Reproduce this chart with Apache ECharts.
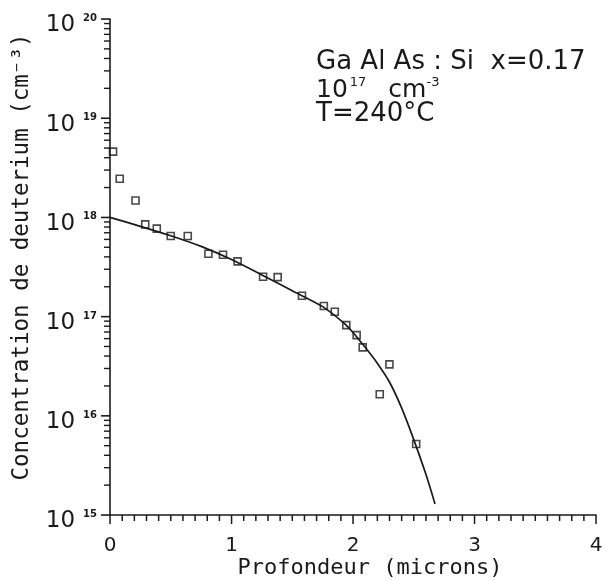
<!DOCTYPE html>
<html>
<head>
<meta charset="utf-8">
<script src="https://cdn.jsdelivr.net/npm/echarts@6/dist/echarts.min.js"></script>
<style>
html,body{margin:0;padding:0;background:#fff;}
#main{width:608px;height:581px;}
</style>
</head>
<body>
<div id="main"></div>
<script>
// Measured points (depth in microns, concentration in cm^-3)
const pointDepth = [0.025, 0.08, 0.21, 0.29, 0.385, 0.50, 0.64, 0.81, 0.93, 1.05, 1.26, 1.38, 1.58, 1.76, 1.85, 1.945, 2.03, 2.08, 2.30, 2.22, 2.52];
const pointConc  = [4.6e18, 2.45e18, 1.48e18, 8.5e17, 7.7e17, 6.5e17, 6.5e17, 4.3e17, 4.2e17, 3.6e17, 2.52e17, 2.5e17, 1.62e17, 1.28e17, 1.12e17, 8.2e16, 6.5e16, 4.9e16, 3.3e16, 1.65e16, 5.2e15];
// Fitted curve
const curveDepth = [0, 0.25, 0.5, 0.75, 1.0, 1.25, 1.5, 1.75, 1.93, 2.0, 2.1, 2.2, 2.3, 2.4, 2.5, 2.6, 2.675];
const curveConc  = [1.0e18, 8.13e17, 6.53e17, 5.1e17, 3.76e17, 2.63e17, 1.82e17, 1.26e17, 8.51e16, 6.92e16, 4.9e16, 3.39e16, 2.19e16, 1.2e16, 5.75e15, 2.57e15, 1.29e15];
// Axes
const xMin = 0, xMax = 4;
const xTickValues = [0, 1, 2, 3, 4];
const yDecades = [15, 16, 17, 18, 19, 20];
const yMinorMultipliers = [2, 3, 4, 5, 6, 7, 8, 9];
// Texts
const xName = 'Profondeur (microns)';
const yName = 'Concentration de deuterium (cm⁻³)';

const ink = '#1a1a1a';
const fam = 'DejaVu Sans';

const chart = echarts.init(document.getElementById('main'));
chart.setOption({
  backgroundColor: '#fff',
  animation: false,
  grid: { left: 110, right: 12, top: 19, bottom: 66, containLabel: false },
  xAxis: {
    type: 'value', min: xMin, max: xMax, interval: 1,
    axisLine: { show: true, lineStyle: { color: ink, width: 1.6 } },
    axisTick: { show: false },
    minorTick: { show: false },
    axisLabel: { fontFamily: fam, fontSize: 20, color: ink, margin: 21 },
    splitLine: { show: false }
  },
  yAxis: {
    type: 'log', logBase: 10, min: Math.pow(10, yDecades[0]), max: Math.pow(10, yDecades[yDecades.length - 1]),
    axisLine: { show: true, lineStyle: { color: ink, width: 1.6 } },
    axisTick: { show: false },
    axisLabel: {
      margin: 13, padding: [13, 0, 0, 0],
      formatter: function (v) { const e = Math.round(Math.log10(v)); return '{b|10}{s|' + e + '}'; },
      rich: {
        b: { fontFamily: fam, fontSize: 23, lineHeight: 24, color: ink },
        s: { fontFamily: fam, fontSize: 10, fontWeight: 'bold', color: ink, verticalAlign: 'top', padding: [0, 0, 0, 8] }
      }
    },
    splitLine: { show: false }
  },
  series: [
    {
      type: 'line', data: curveDepth.map((d, i) => [d, curveConc[i]]),
      smooth: 0.3, showSymbol: false, symbol: 'none',
      lineStyle: { color: ink, width: 1.7 }, z: 2
    },
    {
      type: 'scatter', data: pointDepth.map((d, i) => [d, pointConc[i]]),
      symbol: 'rect', symbolSize: 7,
      itemStyle: { color: 'rgba(255,255,255,0)', borderColor: ink, borderWidth: 1.6 }, z: 3
    }
  ]
});

// Ticks and texts placed through the chart's own scales
const els = [];
const yBottom = Math.pow(10, yDecades[0]);
for (let i = 0; i <= (xMax - xMin) * 10; i++) {
  const v = xMin + i / 10;
  const p = chart.convertToPixel({ gridIndex: 0 }, [v, yBottom]);
  const major = xTickValues.indexOf(Math.round(v * 10) / 10) >= 0;
  const len = major ? 9 : 6;
  els.push({ type: 'rect', z: 50, shape: { x: p[0] - 0.7, y: p[1], width: 1.5, height: len }, style: { fill: ink }, silent: true });
}
for (let i = 0; i < yDecades.length; i++) {
  const dv = Math.pow(10, yDecades[i]);
  const p = chart.convertToPixel({ gridIndex: 0 }, [xMin, dv]);
  els.push({ type: 'rect', z: 50, shape: { x: p[0] - 9, y: p[1] - 0.75, width: 9, height: 1.6 }, style: { fill: ink }, silent: true });
  if (i < yDecades.length - 1) {
    for (const m of yMinorMultipliers) {
      const q = chart.convertToPixel({ gridIndex: 0 }, [xMin, m * dv]);
      els.push({ type: 'rect', z: 50, shape: { x: q[0] - 6, y: q[1] - 0.7, width: 6, height: 1.4 }, style: { fill: ink }, silent: true });
    }
  }
}
const gx0 = chart.convertToPixel({ gridIndex: 0 }, [xMin, yBottom]);
const gx1 = chart.convertToPixel({ gridIndex: 0 }, [xMax, Math.pow(10, yDecades[yDecades.length - 1])]);
els.push({ type: 'text', x: (gx0[0] + gx1[0]) / 2 + 17, y: gx0[1] + 53,
  style: { text: xName, font: '22px "DejaVu Sans Mono"', fill: ink, align: 'center', verticalAlign: 'middle' }, silent: true });
els.push({ type: 'text', x: 22, y: (gx0[1] + gx1[1]) / 2 - 10, rotation: Math.PI / 2,
  style: { text: yName, font: '22.5px "DejaVu Sans Mono"', fill: ink, align: 'center', verticalAlign: 'middle' }, silent: true });
// Annotation
els.push({ type: 'text', x: 316, y: 49, style: { text: 'Ga Al As : Si  x=0.17', font: '26px "DejaVu Sans"', fill: ink }, silent: true });
els.push({ type: 'text', x: 316, y: 76, style: {
    text: '{b|10}{s|17}{c|cm}{t|-3}',
    rich: {
      b: { fontFamily: fam, fontSize: 25, lineHeight: 28, fill: ink },
      s: { fontFamily: fam, fontSize: 13, fill: ink, verticalAlign: 'top', padding: [0, 0, 0, 2] },
      c: { fontFamily: fam, fontSize: 25, lineHeight: 28, fill: ink, padding: [0, 0, 0, 22] },
      t: { fontFamily: fam, fontSize: 13, fill: ink, verticalAlign: 'top', padding: [0, 0, 6, 0] }
    } }, silent: true });
els.push({ type: 'text', x: 316, y: 101, style: { text: 'T=240°C', font: '26px "DejaVu Sans"', fill: ink }, silent: true });
chart.setOption({ graphic: els });
</script>
</body>
</html>
